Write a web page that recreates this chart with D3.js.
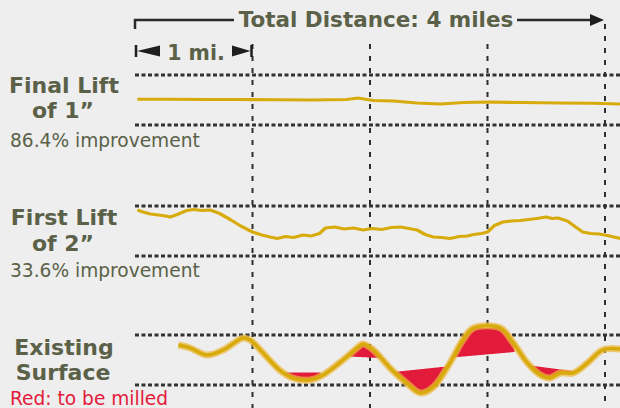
<!DOCTYPE html>
<html>
<head>
<meta charset="utf-8">
<script src="https://cdn.jsdelivr.net/npm/d3@7"></script>
<style>
  body { margin: 0; background: #eeeeee; }
  svg { display: block; }
</style>
</head>
<body>
<svg id="chart" width="620" height="408"></svg>
<script>

// distance along the road in miles, deviation in panel units (-1 .. 1 between the dashed lines)
const mileTicks = [1, 2, 3, 4]

const finalLift = [[0.02,0.03],[0.3,0.03],[0.6,0.02],[0.9,0.02],[1.2,0.01],[1.5,0],[1.8,0.02],[1.9,0.08],
  [1.96,0.03],[2.03,-0.02],[2.2,-0.04],[2.4,-0.12],[2.6,-0.16],[2.8,-0.1],[3.0,-0.08],[3.3,-0.1],
  [3.6,-0.12],[3.9,-0.13],[4.13,-0.16]]

const firstLift = [[0.02,0.84],[0.07,0.76],[0.13,0.68],[0.2,0.64],[0.26,0.6],[0.3,0.56],[0.36,0.66],[0.44,0.82],
  [0.5,0.86],[0.57,0.82],[0.64,0.84],[0.72,0.7],[0.81,0.46],[0.9,0.2],[1.0,-0.04],[1.08,-0.16],[1.15,-0.24],
  [1.21,-0.3],[1.28,-0.22],[1.35,-0.26],[1.43,-0.16],[1.5,-0.2],[1.57,-0.1],[1.62,0.12],[1.7,0.16],[1.78,0.08],
  [1.86,0.12],[1.94,0.04],[2.02,0.1],[2.1,0.06],[2.18,0.14],[2.26,0.16],[2.33,0.1],[2.4,0.04],[2.47,-0.14],
  [2.54,-0.24],[2.61,-0.26],[2.68,-0.3],[2.76,-0.22],[2.83,-0.2],[2.88,-0.14],[2.95,-0.1],[3.0,-0.04],
  [3.06,0.22],[3.13,0.36],[3.2,0.4],[3.28,0.42],[3.35,0.46],[3.42,0.5],[3.5,0.56],[3.55,0.5],[3.6,0.52],
  [3.68,0.4],[3.75,0.16],[3.81,-0.04],[3.88,-0.1],[3.95,-0.12],[4.02,-0.18],[4.13,-0.3]]

const existingSurface = [[0.37,0.6],[0.47,0.48],[0.61,0.2],[0.75,0.4],[0.92,0.88],[0.98,0.8],[1.09,0.28],
  [1.23,-0.4],[1.34,-0.72],[1.49,-0.8],[1.6,-0.6],[1.77,0],[1.89,0.48],[1.94,0.64],[2.03,0.4],[2.17,-0.32],
  [2.31,-0.92],[2.43,-1.32],[2.54,-1.08],[2.68,-0.12],[2.79,0.8],[2.88,1.28],[3.11,1.28],[3.22,0.68],
  [3.34,-0.12],[3.45,-0.6],[3.53,-0.72],[3.62,-0.52],[3.73,-0.52],[3.85,-0.12],[3.98,0.4],[4.13,0.44]]

// straight cut lines: [startMile, startValue, endMile, endValue, side]
const millZones = [[1.27,-0.5,1.58,-0.5,'low'],[1.82,0.14,2.09,0.08,'high'],[2.16,-0.5,2.65,-0.26,'low'],
  [2.65,0.08,3.23,0.32,'high'],[3.33,-0.2,3.72,-0.44,'low']]

const panelNames = [['Final Lift','of 1\u201D'],['First Lift','of 2\u201D'],['Existing','Surface']]
const panelNotes = ['86.4% improvement','33.6% improvement','Red: to be milled']
const totalLabel = 'Total Distance: 4 miles'
const mileLabel = '1 mi.'

const panelTops = [75, 206, 335]
const panelH = 50
const textColor = '#5a6148'
const gold = '#d8ab0c'

const svg = d3.select('#chart')

let x = d3.scaleLinear().domain([0,4]).range([135,605])
let yScales = panelTops.map(t => d3.scaleLinear().domain([-1,1]).range([t+panelH, t]))

// vertical mile dashes
svg.selectAll('line.vgrid')
  .data(mileTicks)
  .enter()
  .append('line')
  .attr('class','vgrid')
  .attr('x1',d => x(d))
  .attr('x2',d => x(d))
  .attr('y1',d => d == 4 ? 24 : 44)
  .attr('y2',408)
  .attr('stroke','#2e2e2e')
  .attr('stroke-width',2)
  .attr('stroke-dasharray','5,7')

// horizontal dashed bounds of each panel
let bounds = []
yScales.forEach(s => { bounds.push(s(1)); bounds.push(s(-1)) })

svg.selectAll('line.hgrid')
  .data(bounds)
  .enter()
  .append('line')
  .attr('class','hgrid')
  .attr('x1',x(0))
  .attr('x2',620)
  .attr('y1',d => d)
  .attr('y2',d => d)
  .attr('stroke','#333')
  .attr('stroke-width',3)
  .attr('stroke-dasharray','4,2.5')

// red areas between surface and cut line
const surfAt = m => {
  for (let i = 1; i < existingSurface.length; i++) {
    let a = existingSurface[i-1], b = existingSurface[i]
    if (m <= b[0]) return a[1] + (b[1]-a[1]) * (m-a[0]) / (b[0]-a[0])
  }
  return existingSurface[existingSurface.length-1][1]
}

const ys = yScales[2]
millZones.forEach(z => {
  let pts = d3.range(0, 1.0001, 1/60).map(t => {
    let m = z[0] + (z[2]-z[0]) * t
    let l = z[1] + (z[3]-z[1]) * t
    let s = surfAt(m)
    return [m, l, z[4] == 'low' ? Math.min(s,l) : Math.max(s,l)]
  })
  svg.append('path')
    .datum(pts)
    .attr('fill','#e31b3a')
    .attr('d', d3.area().x(d => x(d[0])).y0(d => ys(d[1])).y1(d => ys(d[2])))
})

// lift lines
const lineFor = s => d3.line().x(d => x(d[0])).y(d => s(d[1]))

svg.append('path')
  .datum(finalLift)
  .attr('fill','none')
  .attr('stroke',gold)
  .attr('stroke-width',3.2)
  .attr('d', lineFor(yScales[0]))

svg.append('path')
  .datum(firstLift)
  .attr('fill','none')
  .attr('stroke',gold)
  .attr('stroke-width',3.2)
  .attr('stroke-linejoin','round')
  .attr('d', lineFor(yScales[1]))

let surfLine = lineFor(yScales[2]).curve(d3.curveCatmullRom)

svg.append('path')
  .datum(existingSurface)
  .attr('fill','none')
  .attr('stroke','#eeb640')
  .attr('stroke-opacity',0.7)
  .attr('stroke-width',7)
  .attr('stroke-linejoin','round')
  .attr('d', surfLine)

svg.append('path')
  .datum(existingSurface)
  .attr('fill','none')
  .attr('stroke',gold)
  .attr('stroke-width',3.5)
  .attr('stroke-linejoin','round')
  .attr('d', surfLine)

// total distance bracket
svg.append('path')
  .attr('d', `M${x(0)},29V20H234`)
  .attr('fill','none')
  .attr('stroke','#2a2a2a')
  .attr('stroke-width',2.5)

svg.append('path')
  .attr('d', `M517,20H592`)
  .attr('stroke','#2a2a2a')
  .attr('stroke-width',2.5)

svg.append('path')
  .attr('d', `M590,14L${x(4)-1},20L590,26Z`)
  .attr('fill','#1e1e1e')

svg.append('text')
  .attr('x',376)
  .attr('y',27)
  .attr('fill',textColor)
  .style('font-family','DejaVu Sans')
  .style('font-weight','bold')
  .style('font-size','21.5px')
  .style('text-anchor','middle')
  .text(totalLabel)

// 1 mile marker
svg.append('path')
  .attr('d', `M${x(0)+1},45V57M${x(1)-1},45V57`)
  .attr('stroke','#1e1e1e')
  .attr('stroke-width',2.5)

svg.append('path')
  .attr('d', `M${x(0)+2},51L160,45.5L160,56.5Z M${x(1)-2},51L232,45.5L232,56.5Z`)
  .attr('fill','#1e1e1e')

svg.append('text')
  .attr('x',196)
  .attr('y',60)
  .attr('fill',textColor)
  .style('font-family','DejaVu Sans')
  .style('font-weight','bold')
  .style('font-size','20.5px')
  .style('text-anchor','middle')
  .text(mileLabel)

// panel labels
const nameY = [[93,118],[225,251],[355,380]]
const noteY = [147,277,405]

panelNames.forEach((n,i) => {
  svg.append('text')
    .attr('x',64)
    .attr('y',nameY[i][0])
    .attr('fill',textColor)
    .style('font-family','DejaVu Sans')
    .style('font-weight','bold')
    .style('font-size','22px')
    .style('text-anchor','middle')
    .text(n[0])
  svg.append('text')
    .attr('x',63)
    .attr('y',nameY[i][1])
    .attr('fill',textColor)
    .style('font-family','DejaVu Sans')
    .style('font-weight','bold')
    .style('font-size','22px')
    .style('text-anchor','middle')
    .text(n[1])
})

svg.selectAll('text.note')
  .data(panelNotes)
  .enter()
  .append('text')
  .attr('class','note')
  .attr('x',10)
  .attr('y',(d,i) => noteY[i])
  .attr('fill',(d,i) => i == 2 ? '#e31b3a' : textColor)
  .style('font-family','DejaVu Sans')
  .style('font-size','18.6px')
  .text(d => d)

</script>
</body>
</html>
